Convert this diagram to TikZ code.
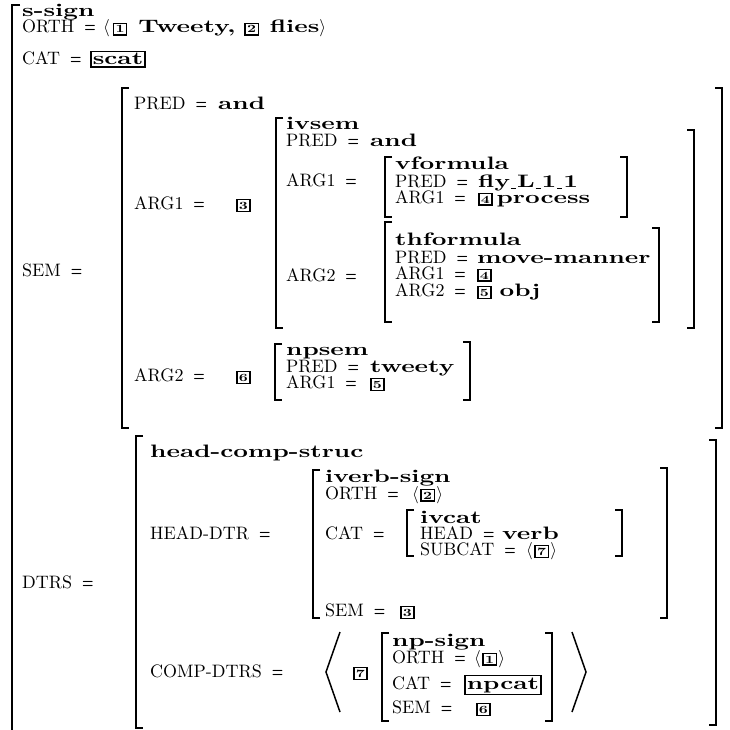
\documentclass[tikz,border=0pt]{standalone}
\usepackage{fontspec}
\setmainfont{lmroman10-regular}[Extension=.otf, BoldFont=lmroman10-bold, BoldFeatures={FakeStretch=1.42}]
\usepackage{graphicx}
\newcommand\avm{\fontsize{18}{16}\selectfont}
\newcommand\tg[1]{{\setlength\fboxsep{1.4pt}\setlength\fboxrule{1.3pt}\fbox{\fontsize{11}{11}\selectfont\bfseries #1}}}
\newcommand\ty[1]{{\setlength\fboxsep{1.2pt}\setlength\fboxrule{1.4pt}\fbox{\bfseries #1}}}
\newcommand\eq{\hspace{0.55em}\scalebox{0.5}[1]{\textbf{=}}}
\newcommand\us{\kern1pt\rule[-2pt]{5pt}{1.3pt}\kern1pt}
\newcommand\la{$\langle$\kern1.5pt}
\newcommand\ra{\kern1.5pt$\rangle$}
\tikzset{
  txt/.style={anchor=base west, inner sep=0pt, font=\avm},
  brk/.style={line width=2.2pt, line cap=butt, line join=miter},
  ang/.style={line width=1.5pt, line join=miter},
}
\newcommand\lbr[3]{\draw[brk] (#1+7,#2) -- (#1,#2) -- (#1,#3) -- (#1+7,#3);}
\newcommand\rbr[3]{\draw[brk] (#1-7,#2) -- (#1,#2) -- (#1,#3) -- (#1-7,#3);}
\begin{document}
\begin{tikzpicture}[x=1pt,y=-1pt]
\useasboundingbox[fill=white] (0,0) rectangle (730,730);
% outer
\draw[brk, line width=2.6pt] (20,5) -- (12,5) -- (12,740);
\node[txt] (ssign) at (22,17) {\textbf{s-sign}};
\node[txt] (orth) at (22,33) {ORTH\eq};
\node[txt] (orthv) at (103,33) {$\langle$\hspace{3pt}\tg{1}\hspace{11pt}\textbf{Tweety,}\hspace{9pt}\tg{2}\hspace{11pt}\textbf{flies}$\rangle$};
\node[txt] (cat) at (22,65) {CAT\eq};
\node[txt] (catv) at (90,65) {\ty{scat}};
\node[txt] (sem) at (22,276) {SEM\eq};
% SEM value
\lbr{122}{88}{428}
\rbr{722}{88}{428}
\node[txt] (p1) at (134,110) {PRED\eq};
\node[txt] (p1v) at (218,110) {\textbf{and}};
\node[txt] (a1) at (134,209) {ARG1\eq};
\node[txt] (a1v) at (236,209) {\tg{3}};
% ivsem
\lbr{276}{118}{328}
\rbr{694}{130}{328}
\node[txt] (ivsem) at (286,130) {\textbf{ivsem}};
\node[txt] (p2) at (286,147) {PRED\eq};
\node[txt] (p2v) at (370,147) {\textbf{and}};
\node[txt] (a2) at (286,186) {ARG1\eq};
% vformula
\lbr{385}{157}{217}
\rbr{627}{157}{217}
\node[txt] (vf) at (395,170) {\textbf{vformula}};
\node[txt] (p3) at (395,187) {PRED\eq};
\node[txt] (p3v) at (478,187) {\textbf{fly}\us\textbf{L}\us\textbf{1}\us\textbf{1}};
\node[txt] (a3) at (395,203) {ARG1\eq};
\node[txt] (a3v) at (478,203) {\tg{4}\hspace{4pt}\textbf{process}};
\node[txt] (b2) at (286,281) {ARG2\eq};
% thformula
\lbr{385}{222}{322}
\rbr{659}{228}{322}
\node[txt] (thf) at (395,245) {\textbf{thformula}};
\node[txt] (p4) at (395,263) {PRED\eq};
\node[txt] (p4v) at (477,263) {\textbf{move-manner}};
\node[txt] (a4) at (395,279) {ARG1\eq};
\node[txt] (a4v) at (477,279) {\tg{4}};
\node[txt] (b4) at (395,296) {ARG2\eq};
\node[txt] (b4v) at (477,296) {\tg{5}\hspace{8pt}\textbf{obj}};
% ARG2 npsem
\node[txt] (b1) at (134,381) {ARG2\eq};
\node[txt] (b1v) at (236,381) {\tg{6}};
\lbr{275}{344}{400}
\rbr{470}{342}{400}
\node[txt] (nps) at (286,355) {\textbf{npsem}};
\node[txt] (p5) at (286,372) {PRED\eq};
\node[txt] (p5v) at (370,372) {\textbf{tweety}};
\node[txt] (a5) at (286,388) {ARG1\eq};
\node[txt] (a5v) at (370,388) {\tg{5}};
% DTRS
\node[txt] (dtrs) at (22,588) {DTRS\eq};
\lbr{136}{436}{728}
\rbr{716}{440}{725}
\node[txt] (hcs) at (150,457) {\textbf{head-comp-struc}};
\node[txt] (hd) at (150,539) {HEAD-DTR\eq};
% iverb-sign
\lbr{313}{470}{618}
\rbr{667}{468}{618}
\node[txt] (ivs) at (325,482) {\textbf{iverb-sign}};
\node[txt] (o2) at (325,499) {ORTH\eq};
\node[txt] (o2v) at (412,499) {\la\tg{2}\ra};
\node[txt] (c2) at (325,539) {CAT\eq};
\lbr{407}{510}{556}
\rbr{622}{510}{556}
\node[txt] (ivc) at (420,523) {\textbf{ivcat}};
\node[txt] (hv) at (420,539) {HEAD\eq};
\node[txt] (hvv) at (502,539) {\textbf{verb}};
\node[txt] (sc) at (420,555) {SUBCAT\eq};
\node[txt] (scv) at (526,555) {\la\tg{7}\ra};
\node[txt] (s2) at (325,616) {SEM\eq};
\node[txt] (s2v) at (400,616) {\tg{3}};
% COMP-DTRS
\node[txt] (cd) at (150,677) {COMP-DTRS\eq};
\draw[ang] (340,632) -- (326,672) -- (340,712);
\node[txt] (t7) at (353,677) {\tg{7}};
\lbr{382}{633}{721}
\rbr{552}{633}{721}
\node[txt] (nps2) at (392,646) {\textbf{np-sign}};
\node[txt] (o3) at (392,663) {ORTH\eq};
\node[txt] (o3v) at (474,663) {\la\tg{1}\ra};
\node[txt] (c3) at (392,689) {CAT\eq};
\node[txt] (c3v) at (464,689) {\ty{npcat}};
\node[txt] (s3) at (392,713) {SEM\eq};
\node[txt] (s3v) at (476,713) {\tg{6}};
\draw[ang] (572,632) -- (586,672) -- (572,712);
\end{tikzpicture}
\end{document}
